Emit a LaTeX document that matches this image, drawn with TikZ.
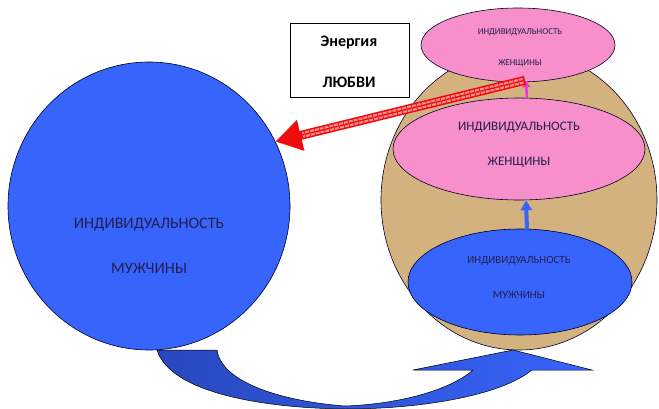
\documentclass[tikz,border=0pt]{standalone}
\usepackage{fontspec}
\setmainfont{Carlito}
\usetikzlibrary{shapes.geometric,arrows.meta,calc}
\definecolor{manblue}{RGB}{55,100,250}
\definecolor{darkblue}{RGB}{40,72,190}
\definecolor{womanpink}{RGB}{247,143,203}
\definecolor{spheretan}{RGB}{212,178,128}
\definecolor{inktext}{RGB}{35,30,80}
\definecolor{lovered}{RGB}{240,12,12}
\definecolor{pinkarrow}{RGB}{235,50,225}

\begin{document}
\begin{tikzpicture}[x=1pt,y=-1pt]
    \tikzstyle{blob}=[ellipse,draw=black!85!blue,line width=0.6pt,inner sep=0pt]
    \tikzstyle{caption}=[text=inktext,inner sep=0pt]
    \tikzstyle{lift}=[-{Triangle[width=11pt,length=10pt]},line width=4pt]
    \useasboundingbox (0,0) rectangle (659,409);
    % the sphere on the right and the three shells inside it
    \node[blob,fill=spheretan,minimum width=276,minimum height=300] at (519,200) (sphere) {};
    \node[blob,fill=womanpink,minimum width=194,minimum height=74] at (518,45) (top) {};
    \node[blob,fill=womanpink,minimum width=252,minimum height=102] at (519,149) (mid) {};
    \node[blob,fill=manblue,minimum width=224,minimum height=106] at (520,282) (low) {};
    \node[blob,fill=manblue,minimum width=282,minimum height=288] at (149,206) (man) {};
    % captions
    \node[caption,font=\fontsize{16}{16}\selectfont] at (149,225) (mana) {ИНДИВИДУАЛЬНОСТЬ};
    \node[caption,font=\fontsize{16}{16}\selectfont] at (149,268) (manb) {МУЖЧИНЫ};
    \node[caption,font=\fontsize{13}{13}\selectfont] at (519,127) (mida) {ИНДИВИДУАЛЬНОСТЬ};
    \node[caption,font=\fontsize{13}{13}\selectfont] at (519,162) (midb) {ЖЕНЩИНЫ};
    \node[caption,font=\fontsize{11}{11}\selectfont] at (519,261) (lowa) {ИНДИВИДУАЛЬНОСТЬ};
    \node[caption,font=\fontsize{11}{11}\selectfont] at (519,295) (lowb) {МУЖЧИНЫ};
    \node[caption,font=\fontsize{9}{9}\selectfont] at (520,32) (topa) {ИНДИВИДУАЛЬНОСТЬ};
    \node[caption,font=\fontsize{9}{9}\selectfont] at (520,63) (topb) {ЖЕНЩИНЫ};
    % energy box
    \node[draw,line width=0.6pt,minimum width=119,minimum height=74] at (349.5,60) (love) {};
    \node[inner sep=0pt,font=\fontsize{16}{16}\selectfont\bfseries] at (349,43) (lovea) {Энергия};
    \node[inner sep=0pt,font=\fontsize{16}{16}\selectfont\bfseries] at (349,82) (loveb) {ЛЮБВИ};
    % arrows
    \draw[lift,manblue] ($(low.north)+(7,1)$) -- ($(mid.south)+(7,0)$);
    \draw[-{Triangle[width=8pt,length=6pt]},line width=2.5pt,pinkarrow] ($(mid.north)+(8,1)$) -- ($(top.south)+(8,-1)$);
    \draw[-{Triangle[width=30pt,length=26pt]},line width=9pt,lovered] ($(top.south)+(7,-2)$) -- (man.27);
    \draw[white!55!lovered,line width=2.2pt,double=lovered,double distance=1.4pt,dash pattern=on 4pt off 1pt,shorten >=28pt,shorten <=2pt] ($(top.south)+(7,-2)$) -- (man.27);
    % curved arrow under the picture
    \draw[line width=0.5pt,left color=darkblue,right color=manblue]
      (157,350) -- (217,350) .. controls (222,385) and (290,402) .. (345,406)
      .. controls (400,404) and (450,390) .. (473,370) -- (413,370) -- (513,350)
      -- (592,370) -- (532,370) .. controls (500,396) and (420,409) .. (345,409)
      .. controls (260,408) and (170,392) .. (157,350) -- cycle;
\end{tikzpicture}
\end{document}
